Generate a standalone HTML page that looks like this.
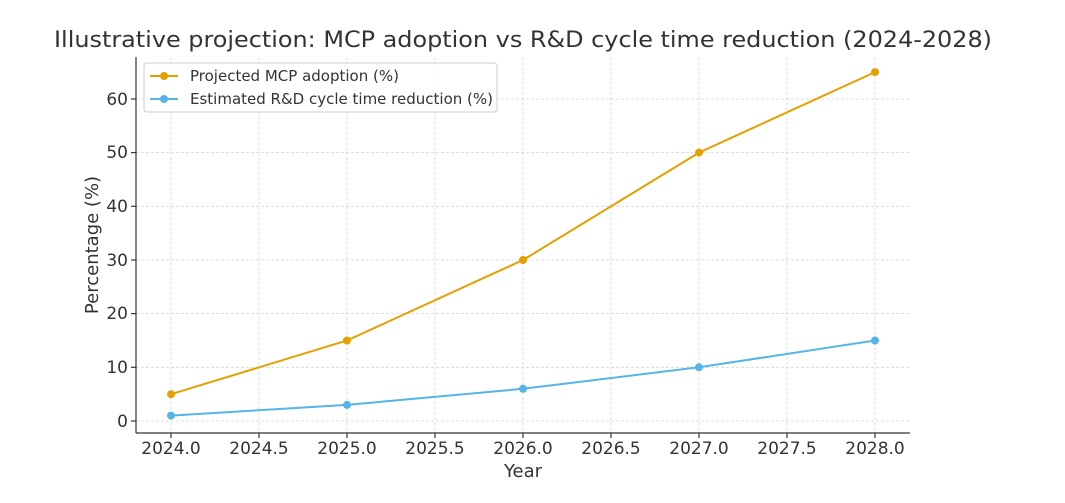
<!DOCTYPE html>
<html><head><meta charset="utf-8"><style>
html,body{margin:0;padding:0;background:#fff;}
svg{display:block;font-family:"DejaVu Sans","Liberation Sans",sans-serif;}
</style></head><body>
<svg width="1065" height="503" viewBox="0 0 1065 503" xmlns="http://www.w3.org/2000/svg">
<rect width="1065" height="503" fill="#fff"/>
<text x="523" y="47" text-anchor="middle" font-size="22" fill="#333" textLength="938" lengthAdjust="spacingAndGlyphs">Illustrative projection: MCP adoption vs R&amp;D cycle time reduction (2024-2028)</text>
<g stroke="#d5d5d5" stroke-width="0.8" stroke-dasharray="3,2">
<line x1="171" y1="57" x2="171" y2="433"/><line x1="259" y1="57" x2="259" y2="433"/>
<line x1="347" y1="57" x2="347" y2="433"/><line x1="435" y1="57" x2="435" y2="433"/>
<line x1="523" y1="57" x2="523" y2="433"/><line x1="611" y1="57" x2="611" y2="433"/>
<line x1="699" y1="57" x2="699" y2="433"/><line x1="787" y1="57" x2="787" y2="433"/>
<line x1="875" y1="57" x2="875" y2="433"/>
<line x1="136" y1="421" x2="910" y2="421"/><line x1="136" y1="367.3" x2="910" y2="367.3"/>
<line x1="136" y1="313.6" x2="910" y2="313.6"/><line x1="136" y1="260" x2="910" y2="260"/>
<line x1="136" y1="206.3" x2="910" y2="206.3"/><line x1="136" y1="152.6" x2="910" y2="152.6"/>
<line x1="136" y1="99" x2="910" y2="99"/>
</g>
<g stroke="#333" stroke-width="1.2">
<line x1="136" y1="57" x2="136" y2="433"/><line x1="136" y1="433" x2="910" y2="433"/>
<line x1="171" y1="433" x2="171" y2="438"/><line x1="259" y1="433" x2="259" y2="438"/>
<line x1="347" y1="433" x2="347" y2="438"/><line x1="435" y1="433" x2="435" y2="438"/>
<line x1="523" y1="433" x2="523" y2="438"/><line x1="611" y1="433" x2="611" y2="438"/>
<line x1="699" y1="433" x2="699" y2="438"/><line x1="787" y1="433" x2="787" y2="438"/>
<line x1="875" y1="433" x2="875" y2="438"/>
<line x1="131" y1="421" x2="136" y2="421"/><line x1="131" y1="367.3" x2="136" y2="367.3"/>
<line x1="131" y1="313.6" x2="136" y2="313.6"/><line x1="131" y1="260" x2="136" y2="260"/>
<line x1="131" y1="206.3" x2="136" y2="206.3"/><line x1="131" y1="152.6" x2="136" y2="152.6"/>
<line x1="131" y1="99" x2="136" y2="99"/>
</g>
<g font-size="17" fill="#333" text-anchor="middle">
<text x="171" y="454">2024.0</text><text x="259" y="454">2024.5</text><text x="347" y="454">2025.0</text>
<text x="435" y="454">2025.5</text><text x="523" y="454">2026.0</text><text x="611" y="454">2026.5</text>
<text x="699" y="454">2027.0</text><text x="787" y="454">2027.5</text><text x="875" y="454">2028.0</text>
</g>
<text x="523" y="477" font-size="18" fill="#333" text-anchor="middle">Year</text>
<g font-size="17" fill="#333" text-anchor="end">
<text x="128" y="427">0</text><text x="128" y="373">10</text><text x="128" y="319">20</text>
<text x="128" y="266">30</text><text x="128" y="212">40</text><text x="128" y="158">50</text><text x="128" y="105">60</text>
</g>
<text transform="translate(98,245) rotate(-90)" font-size="18" fill="#333" text-anchor="middle">Percentage (%)</text>
<polyline points="171,394.2 347,340.5 523,260 699,152.6 875,72.1" fill="none" stroke="#E69F00" stroke-width="2"/>
<g fill="#E69F00"><circle cx="171" cy="394.2" r="4"/><circle cx="347" cy="340.5" r="4"/><circle cx="523" cy="260" r="4"/><circle cx="699" cy="152.6" r="4"/><circle cx="875" cy="72.1" r="4"/></g>
<polyline points="171,415.6 347,404.9 523,388.8 699,367.3 875,340.5" fill="none" stroke="#56B4E9" stroke-width="2"/>
<g fill="#56B4E9"><circle cx="171" cy="415.6" r="4"/><circle cx="347" cy="404.9" r="4"/><circle cx="523" cy="388.8" r="4"/><circle cx="699" cy="367.3" r="4"/><circle cx="875" cy="340.5" r="4"/></g>
<rect x="144" y="63" width="353" height="49" rx="3" fill="#fff" fill-opacity="0.85" stroke="#ccc"/>
<line x1="150" y1="76" x2="178" y2="76" stroke="#E69F00" stroke-width="2"/><circle cx="164" cy="76" r="4" fill="#E69F00"/>
<line x1="150" y1="99" x2="178" y2="99" stroke="#56B4E9" stroke-width="2"/><circle cx="164" cy="99" r="4" fill="#56B4E9"/>
<text x="190" y="81" font-size="15" fill="#333">Projected MCP adoption (%)</text>
<text x="190" y="104" font-size="15" fill="#333">Estimated R&amp;D cycle time reduction (%)</text>
</svg>
</body></html>
